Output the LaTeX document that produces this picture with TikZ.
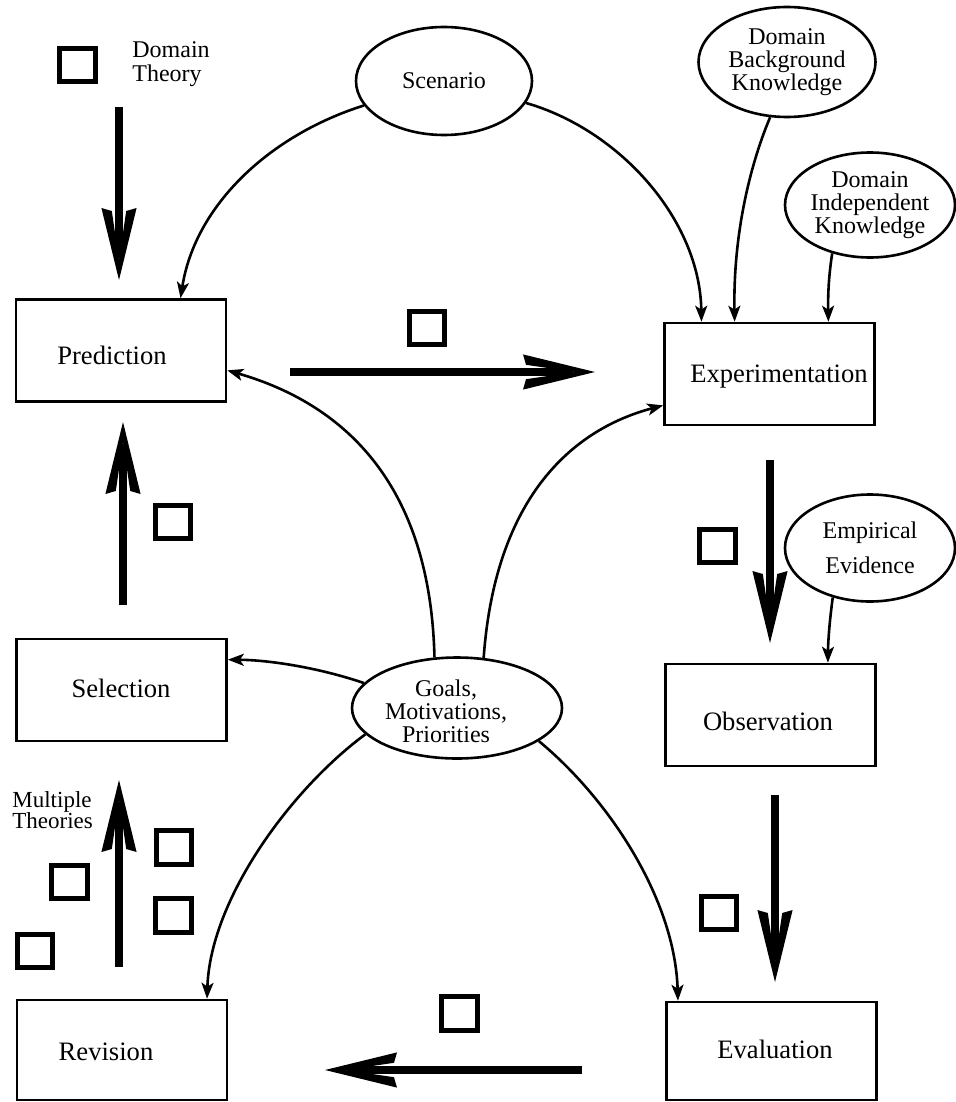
\documentclass[tikz,border=0pt]{standalone}
\usepackage{fontspec}
\setmainfont{Liberation Serif}
\usetikzlibrary{arrows.meta,shapes.geometric,calc}

% heavy open dart used for the main cycle arrows
\pgfdeclarearrow{
  name = BigDart,
  setup code = {
    \pgfarrowssettipend{0pt}
    \pgfarrowssetlineend{-11pt}
    \pgfarrowshullpoint{0pt}{0pt}
    \pgfarrowsupperhullpoint{-36pt}{8.8pt}
  },
  drawing code = {
    \pgfpathmoveto{\pgfpointorigin}
    \pgfpathlineto{\pgfqpoint{-36pt}{8.8pt}}
    \pgfpathlineto{\pgfqpoint{-34.5pt}{3.6pt}}
    \pgfpathlineto{\pgfqpoint{-10pt}{0pt}}
    \pgfpathlineto{\pgfqpoint{-34.5pt}{-3.6pt}}
    \pgfpathlineto{\pgfqpoint{-36pt}{-8.8pt}}
    \pgfpathclose
    \pgfusepathqfill
  }
}

\begin{document}
\begin{tikzpicture}[x=0.5pt,y=-0.5pt,
  stage/.style={draw, line width=1.3pt, minimum width=105pt, minimum height=51pt, inner sep=0pt},
  stagetext/.style={font=\fontsize{13.3}{15}\selectfont, inner sep=0pt, anchor=base},
  blob/.style={draw, ellipse, line width=1.3pt, inner sep=0pt, align=center,
               font=\fontsize{12}{11.5}\selectfont},
  blobtext/.style={inner sep=0pt, align=center, font=\fontsize{12}{11.5}\selectfont},
  token/.style={draw, line width=2.5pt, minimum width=17.8pt, minimum height=16.8pt, inner sep=0pt},
  note/.style={align=left, inner sep=0pt},
  bigarrow/.style={line width=3.8pt, -{BigDart}},
  link/.style={line width=1.3pt, -{Stealth[length=8pt,width=6pt,inset=2pt]}}
]
\useasboundingbox (0,0) rectangle (955,1102);
\fill[white] (0,0) rectangle (955,1102);

% stage boxes
\node[stage] (pred) at (121,350.5) {};
\node[stagetext] (predT) at (112,364) {Prediction};
\node[stage] (exp) at (769.5,374) {};
\node[stagetext] (expT) at (779,382) {Experimentation};
\node[stage] (sel) at (121.5,690) {};
\node[stagetext] (selT) at (121,697) {Selection};
\node[stage] (obs) at (770.5,715) {};
\node[stagetext] (obsT) at (768,730) {Observation};
\node[stage, minimum height=50pt] (rev) at (122,1050) {};
\node[stagetext] (revT) at (106,1060) {Revision};
\node[stage, minimum height=49pt] (eval) at (771.5,1051) {};
\node[stagetext] (evalT) at (775,1058) {Evaluation};

% knowledge sources
\node[blob, minimum width=88pt, minimum height=54pt] (scen) at (444,81) {Scenario};
\node[blob, minimum width=88.5pt, minimum height=55pt] (dbk) at (787,62) {Domain\\Background\\Knowledge};
\node[blob, minimum width=85pt, minimum height=52.5pt] (dik) at (870,205) {Domain\\Independent\\Knowledge};
\node[blob, minimum width=85pt, minimum height=53.5pt] (emp) at (870,548) {Empirical\\[6pt]Evidence};
\node[blob, minimum width=105pt, minimum height=50.5pt] (goal) at (457,708) {};
\node[blobtext] (goalT) at (446,711) {Goals,\\Motivations,\\Priorities};

% theory tokens
\node[token] (tDT) at (77.5,65) {};
\node[token] (tPE) at (427,328) {};
\node[token] (tSP) at (173,522) {};
\node[token] (tEO) at (717.5,546) {};
\node[token] (tOE) at (719,913) {};
\node[token] (tER) at (459.5,1013.5) {};
\node[token] (tR1) at (174,847.5) {};
\node[token] (tR2) at (173.5,915.5) {};
\node[token] (tR3) at (69.5,882) {};
\node[token] (tR4) at (35,951) {};

% captions
\node[note, anchor=west, font=\fontsize{12}{12}\selectfont] (dtT) at (132,64) {Domain\\Theory};
\node[note, anchor=west, font=\fontsize{11.5}{10.8}\selectfont] (mtT) at (12,810) {Multiple\\Theories};

% main cycle
\coordinate (dtA) at (119,107);   \coordinate (dtB) at (119,280);
\coordinate (peA) at (290,372);   \coordinate (peB) at (595,372);
\coordinate (eoA) at (770,460);   \coordinate (eoB) at (770,643);
\coordinate (oeA) at (775,795);   \coordinate (oeB) at (775,982);
\coordinate (erA) at (582,1070);  \coordinate (erB) at (325,1070);
\coordinate (rsA) at (119,967);   \coordinate (rsB) at (119,780);
\coordinate (spA) at (123,605);   \coordinate (spB) at (123,422);
\draw[bigarrow] (dtA) -- (dtB);
\draw[bigarrow] (peA) -- (peB);
\draw[bigarrow] (eoA) -- (eoB);
\draw[bigarrow] (oeA) -- (oeB);
\draw[bigarrow] (erA) -- (erB);
\draw[bigarrow] (rsA) -- (rsB);
\draw[bigarrow] (spA) -- (spB);

% influences
\draw[link] (scen.197) .. controls (270,135) and (195,205) .. ($(pred.north west)!0.78!(pred.north east)$);
\draw[link] (scen.345) .. controls (620,130) and (700,220) .. ($(exp.north west)!0.18!(exp.north east)$);
\draw[link] (dbk.253) .. controls (752,160) and (733,230) .. ($(exp.north west)!0.336!(exp.north east)$);
\draw[link] (dik.232) .. controls (828,280) and (828,300) .. ($(exp.north west)!0.777!(exp.north east)$);
\draw[link] (emp.233) .. controls (829,625) and (828,645) .. ($(obs.north west)!0.77!(obs.north east)$);
\draw[link] (goal.114) .. controls (430,470) and (330,400) .. ($(pred.north east)!0.69!(pred.south east)$);
\draw[link] (goal.62) .. controls (495,500) and (570,430) .. ($(exp.north west)!0.8!(exp.south west)$);
\draw[link] (goal.165) .. controls (320,668) and (270,660) .. ($(sel.north east)!0.21!(sel.south east)$);
\draw[link] (goal.196) .. controls (290,790) and (210,900) .. ($(rev.north west)!0.9!(rev.north east)$);
\draw[link] (goal.338) .. controls (610,800) and (675,900) .. ($(eval.north west)!0.06!(eval.north east)$);
\end{tikzpicture}
\end{document}
